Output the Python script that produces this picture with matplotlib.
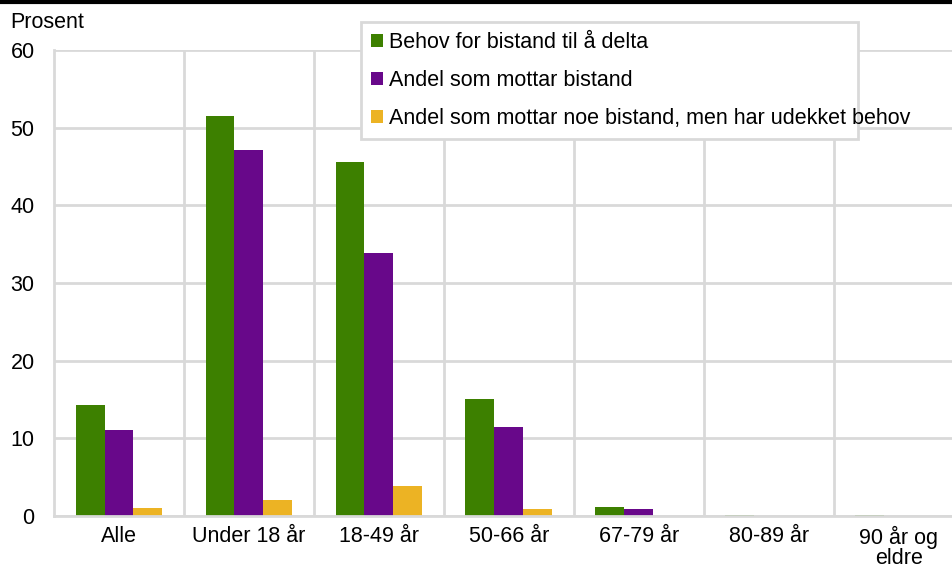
import matplotlib.pyplot as plt
import numpy as np

plt.rcParams['font.family'] = ['Liberation Sans', 'DejaVu Sans']

categories = ['Alle', 'Under 18 år', '18-49 år', '50-66 år', '67-79 år', '80-89 år', '90 år og\neldre']
behov = [14.3, 51.5, 45.6, 15.1, 1.2, 0.1, 0.1]
mottar = [11.1, 47.1, 33.8, 11.5, 0.9, 0.0, 0.0]
udekket = [1.0, 2.0, 3.9, 0.9, 0.0, 0.0, 0.0]
series_names = ['Behov for bistand til å delta',
                'Andel som mottar bistand',
                'Andel som mottar noe bistand, men har udekket behov']
colors = ['#3d8000', '#68088a', '#ecb324']
grid_col = '#d9d9d9'
fs = 15.5

fig = plt.figure(figsize=(9.52, 5.68), dpi=100)
ax = fig.add_axes([54 / 952, 1 - 516 / 568, 898 / 952, 466 / 568])

x = np.arange(len(categories))
w = 0.223
for k, vals in enumerate([behov, mottar, udekket]):
    ax.bar(x + (k - 1) * w, vals, width=w, color=colors[k], label=series_names[k], zorder=3)

ax.set_xlim(-0.5, 6.408)
ax.set_ylim(0, 60)
ax.set_yticks(range(0, 61, 10))
ax.set_xticks(x)
ax.set_xticklabels(categories, fontsize=fs, linespacing=0.95)
ax.set_xticks(x[:-1] + 0.5, minor=True)
ax.tick_params(axis='both', which='both', length=0)
ax.tick_params(axis='x', pad=7)
ax.tick_params(axis='y', labelsize=fs, pad=14)
ax.grid(axis='y', color=grid_col, lw=2, zorder=0)
ax.grid(axis='x', which='minor', color=grid_col, lw=2, zorder=0)
for s in ['top', 'right']:
    ax.spines[s].set_visible(False)
for s in ['left', 'bottom']:
    ax.spines[s].set_color(grid_col)
    ax.spines[s].set_linewidth(2)
    ax.spines[s].set_zorder(4)

fig.text(10 / 952, 1 - 23 / 568, 'Prosent', fontsize=fs, va='center', ha='left')
fig.add_artist(plt.Line2D([0, 1], [1 - 1.5 / 568, 1 - 1.5 / 568], color='black', lw=3))

leg = ax.legend(loc='upper left', bbox_to_anchor=(361 / 952, 1 - 135 / 568, 497 / 952, 113 / 568),
                bbox_transform=fig.transFigure, mode='expand', fontsize=fs,
                handlelength=0.55, handleheight=0.55, handletextpad=0.3,
                labelspacing=0.8, borderpad=0.45, borderaxespad=0,
                fancybox=False, framealpha=1)
leg.get_frame().set_edgecolor(grid_col)
leg.get_frame().set_linewidth(2)
leg.set_zorder(5)

fig.savefig('out.png', dpi=100)
